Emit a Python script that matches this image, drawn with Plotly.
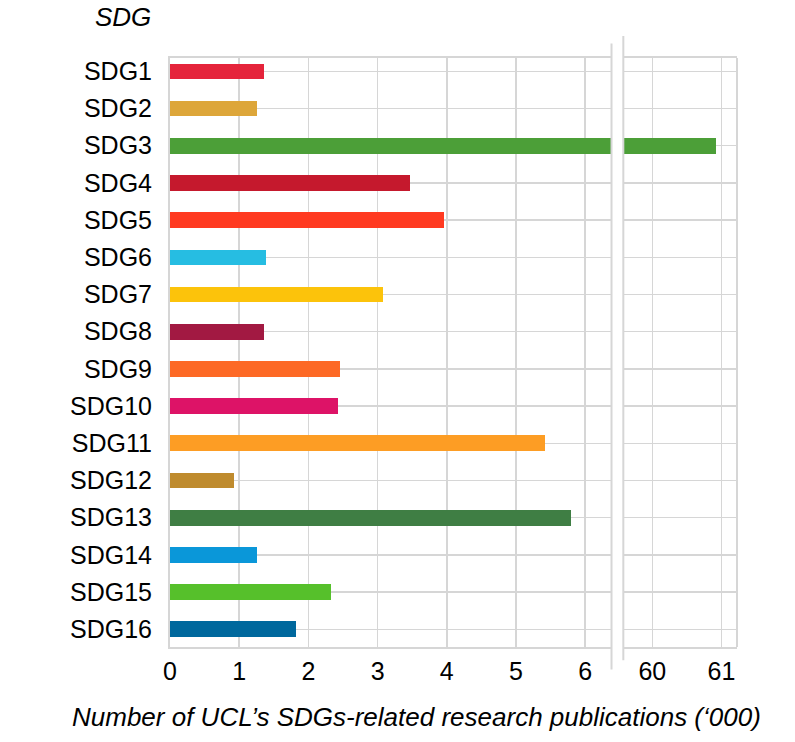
import plotly.graph_objects as go

categories = ["SDG1", "SDG2", "SDG3", "SDG4", "SDG5", "SDG6", "SDG7", "SDG8",
              "SDG9", "SDG10", "SDG11", "SDG12", "SDG13", "SDG14", "SDG15", "SDG16"]
publications_k = [1.36, 1.25, 60.92, 3.47, 3.96, 1.38, 3.08, 1.36,
                  2.45, 2.43, 5.42, 0.92, 5.79, 1.25, 2.33, 1.82]
colors = ["#E5243B", "#DDA63A", "#4C9F38", "#C5192D", "#FF3A21", "#26BDE2",
          "#FCC30B", "#A21942", "#FD6925", "#DD1367", "#FD9D24", "#BF8B2E",
          "#3F7E44", "#0A97D9", "#56C02B", "#00689D"]
left_ticks = [0, 1, 2, 3, 4, 5, 6]
right_ticks = [60, 61]
y_title = "SDG"
x_title = "Number of UCL\u2019s SDGs-related research publications (\u2018000)"

FONT = "Liberation Sans, Arial, Helvetica, sans-serif"
GRID = "#d6d6d6"
pos = list(range(len(categories)))

fig = go.Figure()
fig.add_trace(go.Bar(x=publications_k, y=pos, orientation="h", width=0.42,
                     marker=dict(color=colors, line=dict(width=0)),
                     xaxis="x", yaxis="y", hoverinfo="skip", showlegend=False))
fig.add_trace(go.Bar(x=publications_k, y=pos, orientation="h", width=0.42,
                     marker=dict(color=colors, line=dict(width=0)),
                     xaxis="x2", yaxis="y2", hoverinfo="skip", showlegend=False))

yrange = [15.476, -0.358]
left_dom = [0, 0.7787]
right_dom = [0.7995, 1]

fig.update_layout(
    width=795, height=742,
    margin=dict(l=170, r=58, t=58, b=95),
    paper_bgcolor="white", plot_bgcolor="white",
    font=dict(family=FONT, color="black"),
    bargap=0,
    xaxis=dict(domain=left_dom, range=[0, 6.38], tickvals=left_ticks,
               showgrid=True, gridcolor=GRID, gridwidth=1.5,
               showline=True, linecolor=GRID, linewidth=2, mirror=True,
               zeroline=False, ticks="outside", ticklen=1, tickcolor="rgba(0,0,0,0)",
               tickfont=dict(size=25, family=FONT, color="black"), anchor="y"),
    xaxis2=dict(domain=right_dom, range=[59.58, 61.225], tickvals=right_ticks,
                showgrid=True, gridcolor=GRID, gridwidth=1.5,
                showline=True, linecolor=GRID, linewidth=2, mirror=True,
                zeroline=False, ticks="outside", ticklen=1, tickcolor="rgba(0,0,0,0)",
                tickfont=dict(size=25, family=FONT, color="black"), anchor="y2"),
    yaxis=dict(range=yrange, tickvals=pos, ticktext=categories,
               showgrid=True, gridcolor=GRID, gridwidth=1.5,
               showline=True, linecolor=GRID, linewidth=2, zeroline=False,
               ticks="outside", ticklen=11, tickcolor="rgba(0,0,0,0)",
               tickfont=dict(size=25, family=FONT, color="black"), anchor="x"),
    yaxis2=dict(range=yrange, tickvals=pos, showticklabels=False,
                showgrid=True, gridcolor=GRID, gridwidth=1.5,
                showline=False, zeroline=False, anchor="x2", matches="y"),
)

# axis break lines and right border
fig.add_shape(type="line", xref="paper", yref="paper", x0=left_dom[1], x1=left_dom[1],
              y0=-0.038, y1=1.0245, line=dict(color=GRID, width=2))
fig.add_shape(type="line", xref="paper", yref="paper", x0=right_dom[0], x1=right_dom[0],
              y0=-0.0226, y1=1.0374, line=dict(color=GRID, width=2))
fig.add_shape(type="line", xref="paper", yref="paper", x0=1, x1=1,
              y0=0, y1=1, line=dict(color=GRID, width=2))

fig.add_annotation(text="<i>" + y_title + "</i>", xref="paper", yref="paper",
                   x=-0.03, y=1.069, xanchor="right", yanchor="middle", showarrow=False,
                   font=dict(size=26, family=FONT, color="black"))
fig.add_annotation(text="<i>" + x_title + "</i>", xref="paper", yref="paper",
                   x=0.4347, y=-0.119, xanchor="center", yanchor="middle", showarrow=False,
                   font=dict(size=26, family=FONT, color="black"))

fig.write_html("out.html", config={"displayModeBar": False, "staticPlot": True},
               post_script="document.body.style.margin='0';document.body.style.overflow='hidden';")
